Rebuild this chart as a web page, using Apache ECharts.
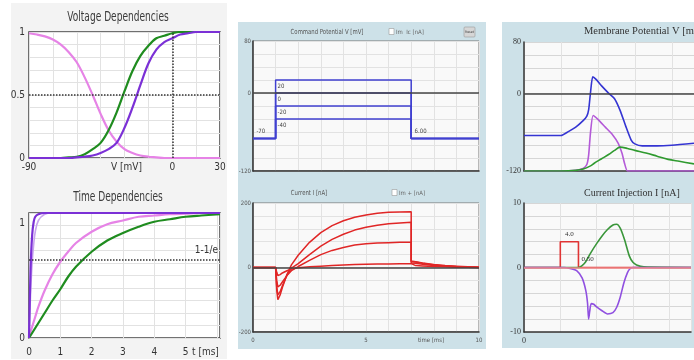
<!DOCTYPE html>
<html><head><meta charset="utf-8">
<script src="https://cdn.jsdelivr.net/npm/echarts@6/dist/echarts.min.js"></script>
<style>html,body{margin:0;padding:0;background:#fff;overflow:hidden}#c{width:694px;height:360px}</style>
</head><body><div id="c"></div>
<script>
// ---------- Voltage dependencies ----------
const V_MV   = [-90,-85,-80,-75,-70,-65,-60,-55,-50,-45,-40,-35,-30,-25,-20,-15,-10,-5,0,5,10,15,20,25,30];
const H_INF  = [0.99,0.98,0.965,0.94,0.90,0.84,0.76,0.64,0.50,0.35,0.22,0.13,0.07,0.04,0.02,0.01,0.005,0,0,0,0,0,0,0,0];
const M_INF  = [0,0,0,0,0,0.005,0.01,0.03,0.07,0.12,0.22,0.36,0.53,0.69,0.81,0.89,0.95,0.97,0.99,1,1,1,1,1,1];
const N_INF  = [0,0,0,0,0,0,0.005,0.01,0.02,0.04,0.07,0.12,0.24,0.40,0.58,0.75,0.86,0.92,0.95,0.98,0.99,1,1,1,1];
const V_TICKS = [-90,0,30];
const V_HALF = 0.5, V_ZERO = 0;
// ---------- Time dependencies ----------
const T_MS   = [0,0.05,0.1,0.15,0.2,0.3,0.5,0.75,1,1.25,1.5,2,2.5,3,3.5,4,4.5,5,5.5,6.1];
const FAST_A = [0,0.55,0.82,0.93,0.97,0.99,1,1,1,1,1,1,1,1,1,1,1,1,1,1];
const FAST_B = [0,0.35,0.60,0.75,0.85,0.94,0.99,1,1,1,1,1,1,1,1,1,1,1,1,1];
const SLOW_H = [0,0.05,0.09,0.13,0.17,0.25,0.38,0.51,0.61,0.69,0.76,0.85,0.91,0.94,0.97,0.98,0.99,0.995,1,1];
const SLOW_N = [0,0.02,0.04,0.06,0.08,0.12,0.20,0.30,0.39,0.49,0.57,0.69,0.78,0.84,0.89,0.93,0.95,0.97,0.98,0.99];
const E_LEVEL = 0.632, E_LABEL = '1-1/e';
// ---------- Command potential ----------
const STEP_LEVELS = [20,0,-20,-40];
const STEP_LABELS = ['20','0','-20','-40'];
const HOLD_V = -70, HOLD_LABEL = '-70';
const STEP_ON = 1, STEP_OFF = 7, T_END = 10, DUR_LABEL = '6.00';
// ---------- Current ----------
const T_CUR = [0,1,1.05,1.1,1.2,1.3,1.5,1.7,2,2.5,3,3.5,4,4.5,5,5.5,6,6.5,7,7,7.2,7.5,8,8.5,9,9.5,10];
const I_A = [0,0,-70,-100,-85,-62,-22,8,38,78,108,130,145,156,163,168,171,172,173,20,18,14,9,6,4,2,1];
const I_B = [0,0,-60,-85,-75,-57,-25,-2,12,40,66,87,103,116,125,131,136,138,140,18,17,13,8,5,3,2,1];
const I_C = [0,0,-40,-60,-55,-45,-25,-10,3,22,40,53,62,70,74,76,77,78,78,14,13,10,6,4,2,1,0];
const I_D = [0,0,-15,-25,-22,-17,-10,-5,-1,2,4,6,8,9,10,11,11,12,12,6,6,5,3,2,1,1,0];
// ---------- Membrane potential ----------
const T_VM = [0,1,1.2,1.4,1.6,1.7,1.75,1.8,1.86,1.95,2.1,2.3,2.45,2.6,2.75,2.9,3.0,3.2,3.6,4.0,4.6];
const VM   = [-65,-65,-59,-52,-42,-35,-25,2,26,22,12,0,-8,-26,-50,-72,-78,-81,-81,-80,-77];
const T_MP = [0,1,1.4,1.6,1.7,1.75,1.8,1.87,2.0,2.2,2.4,2.55,2.65,2.72,2.8,3.0,4.6];
const MP   = [-120,-120,-119,-116,-110,-95,-60,-34,-40,-52,-64,-77,-92,-108,-120,-120,-120];
const T_GP = [0,1,1.4,1.6,1.8,1.9,2.1,2.3,2.45,2.6,2.8,3.0,3.3,3.6,3.9,4.2,4.6];
const GP   = [-120,-120,-119,-117,-112,-108,-101,-94,-88,-83,-85,-88,-92,-97,-102,-105,-109];
// ---------- Current injection ----------
const T_PULSE = [0,1,1,1.5,1.5,4.6];
const I_PULSE = [0,0,4,4,0,0];
const PULSE_AMP = '4.0', PULSE_DUR = '0.50';
const T_IK = [0,1.5,1.6,1.7,1.83,2.0,2.15,2.3,2.45,2.55,2.65,2.77,2.9,3.0,3.1,3.3,4.6];
const I_K  = [0,0,0.3,0.9,2.2,3.7,4.9,5.9,6.6,6.7,6.1,4.3,1.8,0.8,0.4,0.1,0];
const T_INA = [0,1.1,1.3,1.45,1.6,1.7,1.75,1.78,1.81,1.85,1.92,2.0,2.15,2.3,2.45,2.55,2.65,2.75,2.85,2.92,3.0,4.6];
const I_NA  = [0,0,-0.2,-0.5,-1.6,-3.5,-5.5,-8,-6.8,-5.6,-5.7,-6.1,-6.7,-7.2,-7.0,-6.2,-4.6,-2.4,-0.8,-0.2,0,0];

const zip = (xs, ys) => xs.map((x, i) => [x, ys[i]]);
const SANS = '"DejaVu Sans Condensed","Liberation Sans Narrow","Roboto",sans-serif';
const SERIF = '"Liberation Serif","DejaVu Serif",serif';
const PINK = '#e683e6', GREEN = '#1f8c1f', PURPLE = '#7b30d6', LPURPLE = '#c8a4ee';
const BLUE = '#4040d0', RED = '#e02626';
const PANEL = '#cde1e8';

function split(c){ return {show:true, lineStyle:{color:c || '#e2e2e2', width:1}}; }
function baseLabel(fmt){ return {show:!!fmt, formatter:fmt, margin:4, color:'#333', fontFamily:SANS, fontSize:10}; }
function xAx(g, min, max, interval, fmt, extra){
  return Object.assign({gridIndex:g, type:'value', min, max, interval,
    axisLine:{show:false, onZero:false}, axisTick:{show:false}, splitLine:split(), axisLabel:baseLabel(fmt)}, extra || {});
}
function yAx(g, min, max, interval, fmt, extra){
  return Object.assign({gridIndex:g, type:'value', min, max, interval,
    axisLine:{show:false, onZero:false}, axisTick:{show:false}, splitLine:split(), axisLabel:baseLabel(fmt)}, extra || {});
}
function line(xi, data, color, width, extra){
  return Object.assign({type:'line', xAxisIndex:xi, yAxisIndex:xi, data, showSymbol:false, symbol:'none',
    lineStyle:{color, width}, itemStyle:{color}, silent:true, animation:false}, extra || {});
}
const darkAxis = {show:true, onZero:false, lineStyle:{color:'#333', width:1.5}};

const grids = [
  {left:29, top:32, width:191, height:126, show:true, backgroundColor:'#fff', borderColor:'#444', borderWidth:1.5},
  {left:29, top:213, width:191, height:125, show:true, backgroundColor:'#fff', borderColor:'#444', borderWidth:1.5},
  {left:253, top:41, width:226, height:130, show:true, backgroundColor:'#f9f9f9', borderColor:'#777', borderWidth:1},
  {left:253, top:203, width:226, height:129, show:true, backgroundColor:'#f9f9f9', borderColor:'#777', borderWidth:1},
  {left:524, top:42, width:170, height:129, show:true, backgroundColor:'#f9f9f9', borderWidth:0},
  {left:524, top:203, width:170, height:129, show:true, backgroundColor:'#f9f9f9', borderWidth:0}
];

const tinyLbl = {fontSize:6, color:'#555', margin:2, fontFamily:SANS};
const serifLbl = {fontSize:8, color:'#333', margin:3, fontFamily:SERIF};

const xAxes = [
  xAx(0, -90, 30, 15, v => V_TICKS.includes(v) ? String(v) : '',
      {name:'V [mV]', nameLocation:'middle', nameGap:4, nameMoveOverlap:false,
       nameTextStyle:{fontFamily:SANS, fontSize:10, color:'#333', verticalAlign:'top', padding:[0,0,0,4]}}),
  xAx(1, 0, 6.1, 1, v => (v <= 5 && Math.abs(v - Math.round(v)) < 1e-9) ? String(v) : '',
      {name:'t [ms]', nameLocation:'end', nameGap:-28, nameMoveOverlap:false,
       nameTextStyle:{fontFamily:SANS, fontSize:10, color:'#333', verticalAlign:'top', padding:[9,0,0,0]}}),
  xAx(2, 0, T_END, 1, null),
  xAx(3, 0, T_END, 1, v => (v===0||v===5||v===10) ? String(v) : '',
      {name:'time [ms]', nameLocation:'end', nameGap:-61, nameMoveOverlap:false,
       nameTextStyle:{fontFamily:SANS, fontSize:6, color:'#555', verticalAlign:'top', padding:[5,0,0,0]}}),
  xAx(4, 0, 4.6, 1, null),
  xAx(5, 0, 4.6, 1, v => v===0 ? '0' : '')
];
xAxes[1].axisLabel.margin = 9;
Object.assign(xAxes[3].axisLabel, tinyLbl, {margin:5});
Object.assign(xAxes[5].axisLabel, serifLbl, {margin:5});
[2,3,4,5].forEach(i => { xAxes[i].axisLine = darkAxis; });

const yAxes = [
  yAx(0, 0, 1, 0.1, v => (v===0||v===1) ? String(v) : (Math.abs(v-V_HALF)<1e-9 ? '0.5' : '')),
  yAx(1, 0, 1, 0.1, v => v===1 ? '{a|1}' : (v===0 ? '0' : '')),
  yAx(2, -120, 80, 20, v => (v===80||v===0||v===-120) ? String(v) : ''),
  yAx(3, -200, 200, 40, v => (v===200||v===0||v===-200) ? String(v) : ''),
  yAx(4, -120, 80, 20, v => (v===80||v===0||v===-120) ? String(v) : ''),
  yAx(5, -10, 10, 2, v => (v===10||v===0||v===-10) ? String(v) : '')
];
yAxes[1].axisLabel.rich = {a:{padding:[20,0,0,0], fontFamily:SANS, fontSize:10, color:'#333'}};
Object.assign(yAxes[2].axisLabel, tinyLbl);
Object.assign(yAxes[3].axisLabel, tinyLbl);
Object.assign(yAxes[4].axisLabel, serifLbl);
Object.assign(yAxes[5].axisLabel, serifLbl);
[2,3,4,5].forEach(i => { yAxes[i].axisLine = darkAxis; });
// lighter split line at the top edge of the right-hand plots
yAxes[4].splitLine = split('#d6d6d6');
yAxes[5].splitLine = split('#d6d6d6');

const zeroLine = {silent:true, symbol:'none', label:{show:false}, animation:false,
  lineStyle:{color:'#444', width:1.5, type:'solid'}, data:[{yAxis:0}]};
const SM = {smooth:0.35};

const series = [];
// voltage dependencies
series.push(line(0, zip(V_MV, H_INF), PINK, 2.2, Object.assign({
  markLine:{silent:true, symbol:'none', label:{show:false}, animation:false,
    lineStyle:{color:'#333', width:1.5, type:'dotted'}, data:[{yAxis:V_HALF},{xAxis:V_ZERO}]}}, SM)));
series.push(line(0, zip(V_MV, M_INF), GREEN, 2.2, SM));
series.push(line(0, zip(V_MV, N_INF), PURPLE, 2.2, SM));
// time dependencies
series.push(line(1, zip(T_MS, SLOW_H), PINK, 2.2, Object.assign({
  markLine:{silent:true, symbol:'none', animation:false,
    label:{show:true, formatter:E_LABEL, position:'insideEndTop', color:'#333', fontFamily:SANS, fontSize:10, distance:[2,4]},
    lineStyle:{color:'#333', width:1.5, type:'dotted'}, data:[{yAxis:E_LEVEL}]}}, SM)));
series.push(line(1, zip(T_MS, SLOW_N), GREEN, 2.2, SM));
series.push(line(1, zip(T_MS, FAST_B), LPURPLE, 1.6, SM));
series.push(line(1, zip(T_MS, FAST_A), PURPLE, 2.2, SM));
// command potential
STEP_LEVELS.forEach((L, k) => {
  const d = [[0,HOLD_V],[STEP_ON,HOLD_V],[STEP_ON,L],[STEP_OFF,L],[STEP_OFF,HOLD_V],[T_END,HOLD_V]];
  const mpData = [{coord:[STEP_ON, L], name:STEP_LABELS[k],
    label:{position:'bottom', align:'left', distance:3, offset:[2,0]}}];
  if (k === 0) {
    mpData.push({coord:[0.15, HOLD_V], name:HOLD_LABEL, label:{position:'top', align:'left', distance:4}});
    mpData.push({coord:[STEP_OFF+0.15, HOLD_V], name:DUR_LABEL, label:{position:'top', align:'left', distance:4}});
  }
  series.push(line(2, d, BLUE, 1.5, {
    markLine: k === 0 ? zeroLine : undefined,
    markPoint:{symbol:'rect', symbolSize:1, silent:true, animation:false, itemStyle:{color:'rgba(0,0,0,0)'},
      label:{show:true, formatter:'{b}', color:'#444', fontFamily:SANS, fontSize:6}, data:mpData}
  }));
});
// current
[I_A, I_B, I_C, I_D].forEach((arr, k) => {
  series.push(line(3, zip(T_CUR, arr), RED, 1.5, k === 0 ? {markLine:zeroLine, z:3} : {z:3}));
});
// membrane potential
series.push(line(4, zip(T_VM, VM), '#3434d2', 1.6, {markLine:zeroLine, smooth:0.2}));
series.push(line(4, zip(T_MP, MP), '#b45ad8', 1.6, {smooth:0.2}));
series.push(line(4, zip(T_GP, GP), '#2f9a2f', 1.6, {smooth:0.3}));
// current injection
series.push(line(5, zip(T_PULSE, I_PULSE), '#e03434', 1.6, {
  markLine:{silent:true, symbol:'none', label:{show:false}, animation:false,
    lineStyle:{color:'#e88', width:1.5, type:'solid'}, data:[{yAxis:0}]},
  markPoint:{symbol:'rect', symbolSize:1, silent:true, animation:false, itemStyle:{color:'rgba(0,0,0,0)'},
    label:{show:true, formatter:'{b}', color:'#333', fontFamily:SERIF, fontSize:7},
    data:[
      {coord:[(T_PULSE[2]+T_PULSE[3])/2, I_PULSE[2]], name:PULSE_AMP, label:{position:'top', distance:4}},
      {coord:[T_PULSE[3], 0], name:PULSE_DUR, label:{position:'top', align:'left', distance:4, offset:[3,0]}}
    ]}
}));
series.push(line(5, zip(T_IK, I_K), '#3a963a', 1.6, {smooth:0.25}));
series.push(line(5, zip(T_INA, I_NA), '#9050e0', 1.6, {smooth:0.2}));

function txt(x, y, text, font, fill, align, extra){
  return Object.assign({type:'text', x, y, z:100, silent:true,
    style:{text, font, fill:fill || '#333', align:align || 'center', verticalAlign:'middle'}}, extra || {});
}
const graphic = [
  {type:'rect', shape:{x:11, y:3, width:216, height:356}, style:{fill:'#f3f3f3'}, z:-10, silent:true},
  {type:'rect', shape:{x:238, y:22, width:248, height:327}, style:{fill:PANEL}, z:-10, silent:true},
  {type:'rect', shape:{x:502, y:22, width:200, height:326}, style:{fill:PANEL}, z:-10, silent:true},
  txt(118, 17, 'Voltage Dependencies', '14px ' + SANS, '#3a3a3a', 'center', {scaleX:0.72}),
  txt(118, 197, 'Time Dependencies', '14px ' + SANS, '#3a3a3a', 'center', {scaleX:0.72}),
  txt(327, 32, 'Command Potential V [mV]', '7px ' + SANS, '#555', 'center', {scaleX:0.85}),
  txt(309, 193, 'Current I [nA]', '7px ' + SANS, '#555', 'center', {scaleX:0.85}),
  {type:'rect', shape:{x:389, y:28.5, width:5, height:6}, style:{fill:'#fff', stroke:'#999', lineWidth:0.6}, z:100, silent:true},
  txt(396, 32, 'Im  Ic [nA]', '6px ' + SANS, '#666', 'left'),
  {type:'rect', shape:{x:392, y:189.5, width:5, height:6}, style:{fill:'#fff', stroke:'#999', lineWidth:0.6}, z:100, silent:true},
  txt(399, 193, 'Im + [nA]', '6px ' + SANS, '#666', 'left'),
  {type:'rect', shape:{x:464, y:27, width:11, height:10, r:1}, style:{fill:'#d6d6d6', stroke:'#999', lineWidth:0.6}, z:100, silent:true},
  txt(469.5, 32, 'Reset', '3.5px ' + SANS, '#444'),
  txt(584, 31, 'Membrane Potential V [mV]', '10.5px ' + SERIF, '#333', 'left'),
  txt(584, 193, 'Current Injection I [nA]', '10px ' + SERIF, '#333', 'left')
];

const chart = echarts.init(document.getElementById('c'), null, {renderer:'canvas'});
chart.setOption({animation:false, backgroundColor:'#ffffff', grid:grids, xAxis:xAxes, yAxis:yAxes, series, graphic});
</script></body></html>
